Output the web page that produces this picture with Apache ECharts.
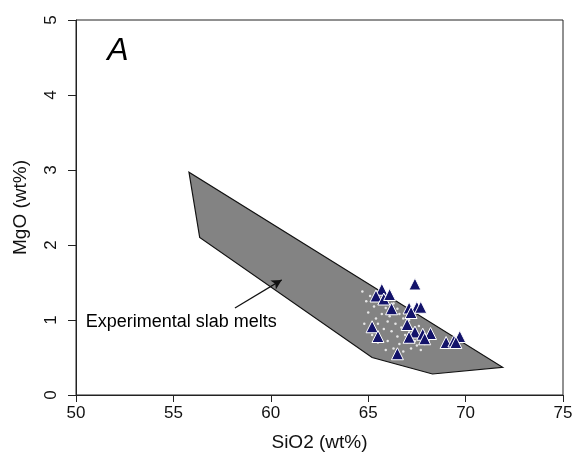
<!DOCTYPE html>
<html><head><meta charset="utf-8">
<script src="https://cdn.jsdelivr.net/npm/echarts@6/dist/echarts.min.js"></script>
<style>html,body{margin:0;padding:0;background:#fff}#c{width:576px;height:457px}</style>
</head><body><div id="c"></div>
<script>
var xTicks = [50, 55, 60, 65, 70, 75];
var yTicks = [0, 1, 2, 3, 4, 5];
// Experimental slab melts field (SiO2, MgO vertices)
var fieldSiO2 = [55.8, 56.35, 65.2, 68.3, 71.9];
var fieldMgO  = [2.97, 2.1, 0.5, 0.28, 0.37];
// Samples (triangles)
var sampleSiO2 = [67.4, 65.7, 65.4, 65.8, 66.1, 66.2, 67.1, 67.5, 67.7, 67.2, 67.0, 65.2, 65.5, 67.4, 67.8, 68.2, 67.1, 67.9, 66.5, 69.0, 69.4, 69.7, 69.5];
var sampleMgO  = [1.48, 1.41, 1.32, 1.28, 1.34, 1.15, 1.16, 1.17, 1.17, 1.10, 0.94, 0.91, 0.78, 0.84, 0.81, 0.82, 0.77, 0.75, 0.55, 0.70, 0.72, 0.78, 0.70];
// Small pale dots (other data)
var dotSiO2 = [64.7,64.9,65.0,65.1,65.3,65.4,65.5,65.6,65.7,65.8,65.9,66.0,66.0,66.1,66.2,66.3,66.3,66.4,66.5,66.6,66.6,66.7,66.8,66.8,66.9,67.0,67.1,67.2,67.3,67.4,67.5,67.6,67.7,67.9,68.1,65.2,65.5,65.9,64.8,66.5];
var dotMgO  = [1.38,1.25,1.10,1.32,1.18,1.02,0.95,1.22,1.08,0.88,1.16,0.98,0.72,1.05,0.85,1.22,0.62,0.95,0.78,1.08,0.68,0.90,1.02,0.58,0.80,0.70,1.00,0.62,0.88,0.72,0.66,0.92,0.60,0.68,0.72,0.80,0.70,0.60,0.95,1.15];
// Annotation
var fieldLabel = "Experimental slab melts";
var fieldLabelAt = [50.5, 0.97];
var arrowFrom = [58.16, 1.16];
var arrowTo = [60.56, 1.535];
var panelLabel = "A";
var panelLabelAt = [51.6, 4.58];

function zip(a, b) { return a.map(function (v, i) { return [v, b[i]]; }); }

var chart = echarts.init(document.getElementById('c'), null, {renderer: 'canvas'});
var font = '"Liberation Sans", Arial, sans-serif';
chart.setOption({
  animation: false,
  grid: {left: 76, right: 13, top: 20, bottom: 57, show: true, borderColor: '#222', borderWidth: 1, backgroundColor: 'transparent'},
  xAxis: {
    type: 'value', min: xTicks[0], max: xTicks[xTicks.length - 1], interval: 5,
    name: 'SiO2 (wt%)', nameLocation: 'middle', nameGap: 38,
    nameTextStyle: {fontFamily: font, fontSize: 19, color: '#111'},
    axisLine: {show: true, onZero: false, lineStyle: {color: '#222', width: 1}},
    axisTick: {show: true, inside: false, length: 7, lineStyle: {color: '#222'}},
    axisLabel: {fontFamily: font, fontSize: 17, color: '#111', margin: 10},
    splitLine: {show: false}
  },
  yAxis: {
    type: 'value', min: yTicks[0], max: yTicks[yTicks.length - 1], interval: 1,
    name: 'MgO (wt%)', nameLocation: 'middle', nameGap: 46,
    nameTextStyle: {fontFamily: font, fontSize: 19, color: '#111'},
    axisLine: {show: true, onZero: false, lineStyle: {color: '#222', width: 1}},
    axisTick: {show: true, inside: false, length: 8, lineStyle: {color: '#222'}},
    axisLabel: {fontFamily: font, fontSize: 17, color: '#111', rotate: 90, margin: 16},
    splitLine: {show: false}
  },
  series: [
    {
      type: 'custom',
      data: [[fieldSiO2[0], fieldMgO[0]]],
      renderItem: function (params, api) {
        var pts = fieldSiO2.map(function (x, i) { return api.coord([x, fieldMgO[i]]); });
        return {type: 'polygon', shape: {points: pts}, style: {fill: '#838383', stroke: '#111', lineWidth: 1.2}};
      },
      z: 1,
      markLine: {
        silent: true, symbol: ['none', 'arrow'], symbolSize: [8, 10],
        lineStyle: {color: '#111', width: 1.2, type: 'solid'},
        label: {show: false},
        data: [[{coord: arrowFrom}, {coord: arrowTo}]]
      }
    },
    {
      type: 'scatter', data: zip(dotSiO2, dotMgO), symbol: 'circle', symbolSize: 2.5,
      itemStyle: {color: '#e6e6e6', opacity: 1}, z: 2
    },
    {
      type: 'scatter', data: zip(sampleSiO2, sampleMgO), symbol: 'triangle', symbolSize: 12,
      itemStyle: {color: '#13136a', borderColor: '#ffffff', borderWidth: 1, opacity: 1}, z: 3
    },
    {
      type: 'scatter', symbolSize: 0, z: 4, itemStyle: {opacity: 1},
      data: [{value: fieldLabelAt, label: {show: true, formatter: fieldLabel, position: 'right', distance: 0, fontFamily: font, fontSize: 18, color: '#000'}},
             {value: panelLabelAt, label: {show: true, formatter: panelLabel, position: 'right', distance: 0, fontFamily: font, fontSize: 32, fontStyle: 'italic', color: '#000'}}]
    }
  ]
});
</script></body></html>
